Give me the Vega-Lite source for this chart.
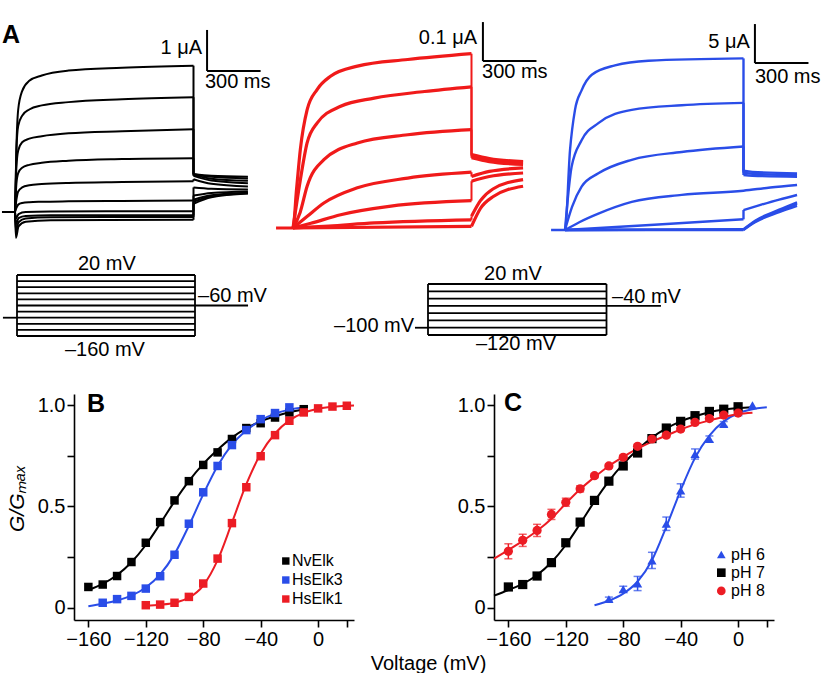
{
"$schema": "https://vega.github.io/schema/vega-lite/v6.json",
"padding": {"left": -3, "top": 20, "right": 0, "bottom": 0},
"background": "white",
"bounds": "full",
"spacing": 7,
"resolve": {"scale": {"color": "independent", "shape": "independent"}, "legend": {"color": "independent", "shape": "independent"}},
"config": {
  "view": {"stroke": null},
  "font": "Liberation Sans",
  "axis": {"domainColor": "#000", "domainWidth": 1.6, "tickColor": "#000", "tickWidth": 1.6, "tickSize": 7, "labelColor": "#000", "labelFontSize": 20, "labelFont": "Liberation Sans", "titleColor": "#000", "titleFont": "Liberation Sans", "titleFontSize": 20, "titleFontWeight": "normal", "grid": false, "labelFlush": false, "labelOverlap": false, "labelPadding": 2},
  "text": {"font": "Liberation Sans", "fontSize": 20, "color": "#000", "baseline": "middle"}
},
"datasets": {
  "kTr": [
    {"k":"1a","t":-73,"i":0},{"k":"1a","t":0,"i":0},{"k":"1a","t":8,"i":1.6},{"k":"1a","t":18,"i":2.5},{"k":"1a","t":40,"i":2.95},{"k":"1a","t":80,"i":3.2},{"k":"1a","t":150,"i":3.33},{"k":"1a","t":300,"i":3.45},{"k":"1a","t":600,"i":3.52},{"k":"1a","t":1000,"i":3.57},
    {"k":"1b","t":1000,"i":0.93},{"k":"1b","t":1100,"i":0.886},{"k":"1b","t":1305,"i":0.86},
    {"k":"2a","t":0,"i":0},{"k":"2a","t":8,"i":1.5},{"k":"2a","t":18,"i":2.1},{"k":"2a","t":40,"i":2.35},{"k":"2a","t":80,"i":2.5},{"k":"2a","t":150,"i":2.6},{"k":"2a","t":300,"i":2.68},{"k":"2a","t":600,"i":2.75},{"k":"2a","t":1000,"i":2.8},
    {"k":"2b","t":1000,"i":0.92},{"k":"2b","t":1100,"i":0.857},{"k":"2b","t":1305,"i":0.82},
    {"k":"3a","t":0,"i":0},{"k":"3a","t":8,"i":1.1},{"k":"3a","t":18,"i":1.5},{"k":"3a","t":40,"i":1.7},{"k":"3a","t":80,"i":1.79},{"k":"3a","t":150,"i":1.85},{"k":"3a","t":300,"i":1.92},{"k":"3a","t":600,"i":1.97},{"k":"3a","t":1000,"i":2.02},
    {"k":"3b","t":1000,"i":0.9},{"k":"3b","t":1100,"i":0.812},{"k":"3b","t":1305,"i":0.76},
    {"k":"4a","t":0,"i":0},{"k":"4a","t":8,"i":0.7},{"k":"4a","t":18,"i":0.95},{"k":"4a","t":40,"i":1.08},{"k":"4a","t":80,"i":1.15},{"k":"4a","t":150,"i":1.2},{"k":"4a","t":300,"i":1.25},{"k":"4a","t":600,"i":1.29},{"k":"4a","t":1000,"i":1.31},
    {"k":"4b","t":1000,"i":0.88},{"k":"4b","t":1100,"i":0.767},{"k":"4b","t":1305,"i":0.7},
    {"k":"5a","t":0,"i":0},{"k":"5a","t":8,"i":0.3},{"k":"5a","t":18,"i":0.5},{"k":"5a","t":40,"i":0.6},{"k":"5a","t":80,"i":0.65},{"k":"5a","t":150,"i":0.68},{"k":"5a","t":300,"i":0.71},{"k":"5a","t":600,"i":0.73},{"k":"5a","t":1000,"i":0.75},
    {"k":"5b","t":1000,"i":0.8},{"k":"5b","t":1100,"i":0.687},{"k":"5b","t":1305,"i":0.62},
    {"k":"6a","t":0,"i":0},{"k":"6a","t":8,"i":0.1},{"k":"6a","t":18,"i":0.18},{"k":"6a","t":40,"i":0.22},{"k":"6a","t":80,"i":0.24},{"k":"6a","t":150,"i":0.25},{"k":"6a","t":300,"i":0.26},{"k":"6a","t":600,"i":0.27},{"k":"6a","t":1000,"i":0.28},
    {"k":"6b","t":1000,"i":0.6},{"k":"6b","t":1100,"i":0.568},{"k":"6b","t":1305,"i":0.55},
    {"k":"7a","t":0,"i":0},{"k":"7a","t":6,"i":-0.15},{"k":"7a","t":20,"i":-0.05},{"k":"7a","t":60,"i":0},{"k":"7a","t":200,"i":0.01},{"k":"7a","t":1000,"i":0.02},
    {"k":"7b","t":1000,"i":0.4},{"k":"7b","t":1100,"i":0.463},{"k":"7b","t":1305,"i":0.5},
    {"k":"8a","t":0,"i":0},{"k":"8a","t":5,"i":-0.3},{"k":"8a","t":20,"i":-0.15},{"k":"8a","t":60,"i":-0.1},{"k":"8a","t":200,"i":-0.08},{"k":"8a","t":1000,"i":-0.08},
    {"k":"8b","t":1000,"i":0.3},{"k":"8b","t":1100,"i":0.407},{"k":"8b","t":1305,"i":0.47},
    {"k":"9a","t":0,"i":0},{"k":"9a","t":5,"i":-0.45},{"k":"9a","t":20,"i":-0.25},{"k":"9a","t":60,"i":-0.16},{"k":"9a","t":200,"i":-0.13},{"k":"9a","t":1000,"i":-0.12},
    {"k":"9b","t":1000,"i":0.25},{"k":"9b","t":1100,"i":0.386},{"k":"9b","t":1305,"i":0.46},
    {"k":"10a","t":0,"i":0},{"k":"10a","t":5,"i":-0.63},{"k":"10a","t":20,"i":-0.35},{"k":"10a","t":60,"i":-0.24},{"k":"10a","t":200,"i":-0.2},{"k":"10a","t":1000,"i":-0.19},
    {"k":"10b","t":1000,"i":0.2},{"k":"10b","t":1100,"i":0.358},{"k":"10b","t":1305,"i":0.45}
  ],
  "kJump": [
    {"t":1000,"i":3.57,"i2":0.93},{"t":1000,"i":2.8,"i2":0.92},{"t":1000,"i":2.02,"i2":0.9},{"t":1000,"i":1.31,"i2":0.88},{"t":1000,"i":0.75,"i2":0.8},{"t":1000,"i":0.28,"i2":0.6},{"t":1000,"i":0.02,"i2":0.4},{"t":1000,"i":-0.08,"i2":0.3},{"t":1000,"i":-0.12,"i2":0.25},{"t":1000,"i":-0.19,"i2":0.2}
  ],
  "rTr": [
    {"k":"1a","t":-95,"i":0},{"k":"1a","t":0,"i":0},{"k":"1a","t":20,"i":0.1},{"k":"1a","t":41,"i":0.201},{"k":"1a","t":79,"i":0.303},{"k":"1a","t":135,"i":0.355},{"k":"1a","t":210,"i":0.389},{"k":"1a","t":361,"i":0.415},{"k":"1a","t":643,"i":0.432},{"k":"1a","t":1000,"i":0.447},
    {"k":"1b","t":1000,"i":0.188},{"k":"1b","t":1100,"i":0.178},{"k":"1b","t":1289,"i":0.17},
    {"k":"2a","t":0,"i":0},{"k":"2a","t":40,"i":0.12},{"k":"2a","t":79,"i":0.218},{"k":"2a","t":135,"i":0.269},{"k":"2a","t":267,"i":0.312},{"k":"2a","t":455,"i":0.333},{"k":"2a","t":737,"i":0.35},{"k":"2a","t":1000,"i":0.362},
    {"k":"2b","t":1000,"i":0.185},{"k":"2b","t":1100,"i":0.175},{"k":"2b","t":1289,"i":0.168},
    {"k":"3a","t":0,"i":0},{"k":"3a","t":40,"i":0.04},{"k":"3a","t":79,"i":0.107},{"k":"3a","t":173,"i":0.175},{"k":"3a","t":361,"i":0.218},{"k":"3a","t":643,"i":0.239},{"k":"3a","t":1000,"i":0.252},
    {"k":"3b","t":1000,"i":0.18},{"k":"3b","t":1100,"i":0.17},{"k":"3b","t":1289,"i":0.163},
    {"k":"4a","t":0,"i":0},{"k":"4a","t":80,"i":0.03},{"k":"4a","t":173,"i":0.064},{"k":"4a","t":361,"i":0.103},{"k":"4a","t":643,"i":0.128},{"k":"4a","t":1000,"i":0.143},
    {"k":"4b","t":1000,"i":0.132},{"k":"4b","t":1100,"i":0.145},{"k":"4b","t":1289,"i":0.154},
    {"k":"5a","t":0,"i":0},{"k":"5a","t":100,"i":0.012},{"k":"5a","t":267,"i":0.034},{"k":"5a","t":549,"i":0.056},{"k":"5a","t":1000,"i":0.07},
    {"k":"5b","t":1000,"i":0.12},{"k":"5b","t":1100,"i":0.132},{"k":"5b","t":1289,"i":0.141},
    {"k":"6a","t":0,"i":0},{"k":"6a","t":200,"i":0.005},{"k":"6a","t":455,"i":0.013},{"k":"6a","t":1000,"i":0.021},
    {"k":"6b","t":1000,"i":0.03},{"k":"6b","t":1050,"i":0.07},{"k":"6b","t":1120,"i":0.1},{"k":"6b","t":1289,"i":0.124},
    {"k":"7a","t":0,"i":0},{"k":"7a","t":1000,"i":0.004},
    {"k":"7b","t":1000,"i":0.004},{"k":"7b","t":1050,"i":0.05},{"k":"7b","t":1120,"i":0.08},{"k":"7b","t":1289,"i":0.107}
  ],
  "rJump": [
    {"t":1000,"i":0.447,"i2":0.188},{"t":1000,"i":0.362,"i2":0.185},{"t":1000,"i":0.252,"i2":0.18},{"t":1000,"i":0.143,"i2":0.132},{"t":1000,"i":0.07,"i2":0.12},{"t":1000,"i":0.021,"i2":0.03}
  ],
  "bTr": [
    {"k":"1a","t":-78,"i":0},{"k":"1a","t":0,"i":0},{"k":"1a","t":28,"i":10.2},{"k":"1a","t":56,"i":15.4},{"k":"1a","t":93,"i":17.9},{"k":"1a","t":150,"i":19.9},{"k":"1a","t":280,"i":21.1},{"k":"1a","t":467,"i":21.7},{"k":"1a","t":1000,"i":22.0},
    {"k":"1b","t":1000,"i":7.6},{"k":"1b","t":1050,"i":7.45},{"k":"1b","t":1300,"i":7.26},
    {"k":"2a","t":0,"i":0},{"k":"2a","t":37,"i":8.1},{"k":"2a","t":93,"i":11.5},{"k":"2a","t":187,"i":13.7},{"k":"2a","t":374,"i":15.4},{"k":"2a","t":654,"i":16.0},{"k":"2a","t":1000,"i":16.3},
    {"k":"2b","t":1000,"i":7.35},{"k":"2b","t":1050,"i":7.2},{"k":"2b","t":1300,"i":7.05},
    {"k":"3a","t":0,"i":0},{"k":"3a","t":40,"i":3.0},{"k":"3a","t":93,"i":5.55},{"k":"3a","t":187,"i":7.26},{"k":"3a","t":374,"i":9.0},{"k":"3a","t":654,"i":10.0},{"k":"3a","t":1000,"i":10.7},
    {"k":"3b","t":1000,"i":7.05},{"k":"3b","t":1050,"i":6.95},{"k":"3b","t":1300,"i":6.83},
    {"k":"4a","t":0,"i":0},{"k":"4a","t":80,"i":1.0},{"k":"4a","t":187,"i":2.1},{"k":"4a","t":374,"i":3.6},{"k":"4a","t":654,"i":4.5},{"k":"4a","t":1000,"i":5.04},{"k":"4a","t":1150,"i":5.45},{"k":"4a","t":1300,"i":5.77},
    {"k":"5a","t":0,"i":0},{"k":"5a","t":500,"i":0.68},{"k":"5a","t":1000,"i":1.37},
    {"k":"5b","t":1000,"i":2.56},{"k":"5b","t":1100,"i":3.25},{"k":"5b","t":1200,"i":3.9},{"k":"5b","t":1300,"i":4.49},
    {"k":"6a","t":0,"i":0},{"k":"6a","t":1000,"i":0.09},
    {"k":"6b","t":1000,"i":0.1},{"k":"6b","t":1065,"i":1.2},{"k":"6b","t":1200,"i":2.6},{"k":"6b","t":1300,"i":3.55},
    {"k":"7a","t":0,"i":0},{"k":"7a","t":1000,"i":0.05},
    {"k":"7b","t":1000,"i":0.05},{"k":"7b","t":1065,"i":1.1},{"k":"7b","t":1200,"i":2.45},{"k":"7b","t":1300,"i":3.35},
    {"k":"8a","t":0,"i":0},{"k":"8a","t":1000,"i":0},
    {"k":"8b","t":1000,"i":0},{"k":"8b","t":1065,"i":1.0},{"k":"8b","t":1200,"i":2.3},{"k":"8b","t":1300,"i":3.1}
  ],
  "bJump": [
    {"t":1000,"i":22.0,"i2":7.6},{"t":1000,"i":16.3,"i2":7.35},{"t":1000,"i":10.7,"i2":7.05},{"t":1000,"i":1.37,"i2":2.56}
  ],
  "bpts": [
    {"g":"NvElk","v":-160,"y":0.103},{"g":"NvElk","v":-150,"y":0.115},{"g":"NvElk","v":-140,"y":0.157},{"g":"NvElk","v":-130,"y":0.226},{"g":"NvElk","v":-120,"y":0.321},{"g":"NvElk","v":-110,"y":0.423},{"g":"NvElk","v":-100,"y":0.53},{"g":"NvElk","v":-90,"y":0.625},{"g":"NvElk","v":-80,"y":0.705},{"g":"NvElk","v":-70,"y":0.767},{"g":"NvElk","v":-60,"y":0.833},{"g":"NvElk","v":-50,"y":0.887},{"g":"NvElk","v":-40,"y":0.911},{"g":"NvElk","v":-30,"y":0.939},{"g":"NvElk","v":-20,"y":0.964},{"g":"NvElk","v":-10,"y":0.98},
    {"g":"HsElk3","v":-150,"y":0.025},{"g":"HsElk3","v":-140,"y":0.043},{"g":"HsElk3","v":-130,"y":0.059},{"g":"HsElk3","v":-120,"y":0.095},{"g":"HsElk3","v":-110,"y":0.156},{"g":"HsElk3","v":-100,"y":0.262},{"g":"HsElk3","v":-90,"y":0.415},{"g":"HsElk3","v":-80,"y":0.57},{"g":"HsElk3","v":-70,"y":0.7},{"g":"HsElk3","v":-60,"y":0.803},{"g":"HsElk3","v":-50,"y":0.877},{"g":"HsElk3","v":-40,"y":0.931},{"g":"HsElk3","v":-30,"y":0.961},{"g":"HsElk3","v":-20,"y":0.989},
    {"g":"HsElk1","v":-120,"y":0.013},{"g":"HsElk1","v":-110,"y":0.016},{"g":"HsElk1","v":-100,"y":0.025},{"g":"HsElk1","v":-90,"y":0.054},{"g":"HsElk1","v":-80,"y":0.12},{"g":"HsElk1","v":-70,"y":0.243},{"g":"HsElk1","v":-60,"y":0.418},{"g":"HsElk1","v":-50,"y":0.595},{"g":"HsElk1","v":-40,"y":0.748},{"g":"HsElk1","v":-30,"y":0.852},{"g":"HsElk1","v":-20,"y":0.923},{"g":"HsElk1","v":-10,"y":0.964},{"g":"HsElk1","v":0,"y":0.984},{"g":"HsElk1","v":10,"y":0.993},{"g":"HsElk1","v":20,"y":0.997}
  ],
  "bfit": [
    {"g":"NvElk","v":-160,"y":0.088},{"g":"NvElk","v":-150,"y":0.118},{"g":"NvElk","v":-140,"y":0.162},{"g":"NvElk","v":-130,"y":0.225},{"g":"NvElk","v":-120,"y":0.31},{"g":"NvElk","v":-110,"y":0.415},{"g":"NvElk","v":-100,"y":0.525},{"g":"NvElk","v":-90,"y":0.625},{"g":"NvElk","v":-80,"y":0.71},{"g":"NvElk","v":-70,"y":0.78},{"g":"NvElk","v":-60,"y":0.84},{"g":"NvElk","v":-50,"y":0.885},{"g":"NvElk","v":-40,"y":0.92},{"g":"NvElk","v":-30,"y":0.945},{"g":"NvElk","v":-20,"y":0.965},{"g":"NvElk","v":-10,"y":0.978},
    {"g":"HsElk3","v":-160,"y":0.008},{"g":"HsElk3","v":-150,"y":0.02},{"g":"HsElk3","v":-140,"y":0.036},{"g":"HsElk3","v":-130,"y":0.06},{"g":"HsElk3","v":-120,"y":0.1},{"g":"HsElk3","v":-110,"y":0.165},{"g":"HsElk3","v":-100,"y":0.265},{"g":"HsElk3","v":-90,"y":0.405},{"g":"HsElk3","v":-80,"y":0.56},{"g":"HsElk3","v":-70,"y":0.7},{"g":"HsElk3","v":-60,"y":0.805},{"g":"HsElk3","v":-50,"y":0.875},{"g":"HsElk3","v":-40,"y":0.925},{"g":"HsElk3","v":-30,"y":0.958},{"g":"HsElk3","v":-20,"y":0.978},{"g":"HsElk3","v":-10,"y":0.99},
    {"g":"HsElk1","v":-120,"y":0.01},{"g":"HsElk1","v":-110,"y":0.015},{"g":"HsElk1","v":-100,"y":0.025},{"g":"HsElk1","v":-90,"y":0.05},{"g":"HsElk1","v":-80,"y":0.11},{"g":"HsElk1","v":-70,"y":0.235},{"g":"HsElk1","v":-60,"y":0.42},{"g":"HsElk1","v":-50,"y":0.61},{"g":"HsElk1","v":-40,"y":0.76},{"g":"HsElk1","v":-30,"y":0.86},{"g":"HsElk1","v":-20,"y":0.925},{"g":"HsElk1","v":-10,"y":0.962},{"g":"HsElk1","v":0,"y":0.982},{"g":"HsElk1","v":10,"y":0.992},{"g":"HsElk1","v":20,"y":0.997},{"g":"HsElk1","v":25,"y":0.998}
  ],
  "cpts": [
    {"ph":"pH 6","v":-90,"y":0.043},{"ph":"pH 6","v":-80,"y":0.092},{"ph":"pH 6","v":-70,"y":0.12},{"ph":"pH 6","v":-60,"y":0.234},{"ph":"pH 6","v":-50,"y":0.415},{"ph":"pH 6","v":-40,"y":0.579},{"ph":"pH 6","v":-30,"y":0.759},{"ph":"pH 6","v":-20,"y":0.833},{"ph":"pH 6","v":-10,"y":0.907},{"ph":"pH 6","v":0,"y":0.965},{"ph":"pH 6","v":10,"y":1.0},
    {"ph":"pH 7","v":-160,"y":0.103},{"ph":"pH 7","v":-150,"y":0.115},{"ph":"pH 7","v":-140,"y":0.157},{"ph":"pH 7","v":-130,"y":0.223},{"ph":"pH 7","v":-120,"y":0.321},{"ph":"pH 7","v":-110,"y":0.423},{"ph":"pH 7","v":-100,"y":0.53},{"ph":"pH 7","v":-90,"y":0.625},{"ph":"pH 7","v":-80,"y":0.7},{"ph":"pH 7","v":-70,"y":0.764},{"ph":"pH 7","v":-60,"y":0.835},{"ph":"pH 7","v":-50,"y":0.887},{"ph":"pH 7","v":-40,"y":0.92},{"ph":"pH 7","v":-30,"y":0.948},{"ph":"pH 7","v":-20,"y":0.969},{"ph":"pH 7","v":-10,"y":0.98},{"ph":"pH 7","v":0,"y":0.992},
    {"ph":"pH 8","v":-160,"y":0.279},{"ph":"pH 8","v":-150,"y":0.333},{"ph":"pH 8","v":-140,"y":0.382},{"ph":"pH 8","v":-130,"y":0.461},{"ph":"pH 8","v":-120,"y":0.521},{"ph":"pH 8","v":-110,"y":0.587},{"ph":"pH 8","v":-100,"y":0.652},{"ph":"pH 8","v":-90,"y":0.7},{"ph":"pH 8","v":-80,"y":0.743},{"ph":"pH 8","v":-70,"y":0.797},{"ph":"pH 8","v":-60,"y":0.833},{"ph":"pH 8","v":-50,"y":0.852},{"ph":"pH 8","v":-40,"y":0.882},{"ph":"pH 8","v":-30,"y":0.915},{"ph":"pH 8","v":-20,"y":0.934},{"ph":"pH 8","v":-10,"y":0.951},{"ph":"pH 8","v":0,"y":0.961}
  ],
  "cerr": [
    {"ph":"pH 6","v":-90,"y":0.033,"y2":0.053},{"ph":"pH 6","v":-80,"y":0.077,"y2":0.107},{"ph":"pH 6","v":-70,"y":0.085,"y2":0.155},{"ph":"pH 6","v":-60,"y":0.194,"y2":0.274},{"ph":"pH 6","v":-50,"y":0.382,"y2":0.448},{"ph":"pH 6","v":-40,"y":0.546,"y2":0.612},{"ph":"pH 6","v":-30,"y":0.734,"y2":0.784},{"ph":"pH 6","v":-20,"y":0.818,"y2":0.848},{"ph":"pH 6","v":-10,"y":0.895,"y2":0.919},
    {"ph":"pH 8","v":-160,"y":0.242,"y2":0.316},{"ph":"pH 8","v":-150,"y":0.303,"y2":0.363},{"ph":"pH 8","v":-140,"y":0.352,"y2":0.412},{"ph":"pH 8","v":-130,"y":0.436,"y2":0.486},{"ph":"pH 8","v":-120,"y":0.501,"y2":0.541},{"ph":"pH 8","v":-110,"y":0.572,"y2":0.602},{"ph":"pH 8","v":-100,"y":0.642,"y2":0.662},{"ph":"pH 8","v":-90,"y":0.69,"y2":0.71},{"ph":"pH 8","v":-80,"y":0.733,"y2":0.753},{"ph":"pH 8","v":-70,"y":0.787,"y2":0.807},{"ph":"pH 8","v":-60,"y":0.823,"y2":0.843},{"ph":"pH 8","v":-50,"y":0.842,"y2":0.862},{"ph":"pH 8","v":-40,"y":0.872,"y2":0.892},{"ph":"pH 8","v":-30,"y":0.905,"y2":0.925},{"ph":"pH 8","v":-20,"y":0.924,"y2":0.944},{"ph":"pH 8","v":-10,"y":0.941,"y2":0.961},{"ph":"pH 8","v":0,"y":0.951,"y2":0.971}
  ],
  "cfit": [
    {"ph":"pH 6","v":-100,"y":0.013},{"ph":"pH 6","v":-90,"y":0.035},{"ph":"pH 6","v":-80,"y":0.07},{"ph":"pH 6","v":-70,"y":0.13},{"ph":"pH 6","v":-60,"y":0.235},{"ph":"pH 6","v":-50,"y":0.4},{"ph":"pH 6","v":-40,"y":0.58},{"ph":"pH 6","v":-30,"y":0.74},{"ph":"pH 6","v":-20,"y":0.85},{"ph":"pH 6","v":-10,"y":0.92},{"ph":"pH 6","v":0,"y":0.96},{"ph":"pH 6","v":10,"y":0.98},{"ph":"pH 6","v":20,"y":0.99},
    {"ph":"pH 7","v":-170,"y":0.06},{"ph":"pH 7","v":-160,"y":0.088},{"ph":"pH 7","v":-150,"y":0.118},{"ph":"pH 7","v":-140,"y":0.162},{"ph":"pH 7","v":-130,"y":0.225},{"ph":"pH 7","v":-120,"y":0.31},{"ph":"pH 7","v":-110,"y":0.415},{"ph":"pH 7","v":-100,"y":0.525},{"ph":"pH 7","v":-90,"y":0.625},{"ph":"pH 7","v":-80,"y":0.71},{"ph":"pH 7","v":-70,"y":0.78},{"ph":"pH 7","v":-60,"y":0.84},{"ph":"pH 7","v":-50,"y":0.885},{"ph":"pH 7","v":-40,"y":0.92},{"ph":"pH 7","v":-30,"y":0.945},{"ph":"pH 7","v":-20,"y":0.965},{"ph":"pH 7","v":-10,"y":0.978},{"ph":"pH 7","v":0,"y":0.986},{"ph":"pH 7","v":10,"y":0.99},
    {"ph":"pH 8","v":-170,"y":0.243},{"ph":"pH 8","v":-160,"y":0.285},{"ph":"pH 8","v":-150,"y":0.33},{"ph":"pH 8","v":-140,"y":0.38},{"ph":"pH 8","v":-130,"y":0.44},{"ph":"pH 8","v":-120,"y":0.515},{"ph":"pH 8","v":-110,"y":0.585},{"ph":"pH 8","v":-100,"y":0.645},{"ph":"pH 8","v":-90,"y":0.7},{"ph":"pH 8","v":-80,"y":0.745},{"ph":"pH 8","v":-70,"y":0.785},{"ph":"pH 8","v":-60,"y":0.82},{"ph":"pH 8","v":-50,"y":0.85},{"ph":"pH 8","v":-40,"y":0.88},{"ph":"pH 8","v":-30,"y":0.905},{"ph":"pH 8","v":-20,"y":0.925},{"ph":"pH 8","v":-10,"y":0.942},{"ph":"pH 8","v":0,"y":0.955},{"ph":"pH 8","v":10,"y":0.962}
  ]
},
"vconcat": [
  {
    "hconcat": [
      {
        "width": 270, "height": 220,
        "encoding": {
          "x": {"field": "t", "type": "quantitative", "scale": {"domain": [-84, 1428.6], "nice": false, "zero": false}, "axis": null},
          "y": {"field": "i", "type": "quantitative", "scale": {"domain": [-0.683, 4.683], "nice": false, "zero": false}, "axis": null}
        },
        "layer": [
          {"data": {"name": "kTr"}, "mark": {"type": "line", "interpolate": "monotone", "strokeWidth": 2, "color": "#000"}, "encoding": {"detail": {"field": "k", "type": "nominal"}}},
          {"data": {"name": "kJump"}, "mark": {"type": "rule", "strokeWidth": 2, "color": "#000"}, "encoding": {"y2": {"field": "i2"}}},
          {"data": {"values": [{"t": 1076, "t2": 1076, "i": 3.44, "i2": 4.44}, {"t": 1076, "t2": 1376, "i": 3.44, "i2": 3.44}]}, "mark": {"type": "rule", "strokeWidth": 2, "color": "#000"}, "encoding": {"x2": {"field": "t2"}, "y2": {"field": "i2"}}},
          {"data": {"values": [{"txt": "1 μA", "t": 1048, "i": 4.0}]}, "mark": {"type": "text", "align": "right"}, "encoding": {"text": {"field": "txt"}}},
          {"data": {"values": [{"txt": "300 ms", "t": 1064, "i": 3.16}]}, "mark": {"type": "text", "align": "left"}, "encoding": {"text": {"field": "txt"}}},
          {"data": {"values": [{"txt": "A", "t": -72.8, "i": 4.122}]}, "mark": {"type": "text", "align": "left", "baseline": "alphabetic", "fontSize": 25, "fontWeight": "bold"}, "encoding": {"text": {"field": "txt"}}}
        ]
      },
      {
        "width": 275, "height": 220,
        "encoding": {
          "x": {"field": "t", "type": "quantitative", "scale": {"domain": [-128.85, 1411.8], "nice": false, "zero": false}, "axis": null},
          "y": {"field": "i", "type": "quantitative", "scale": {"domain": [-0.0308, 0.5333], "nice": false, "zero": false}, "axis": null}
        },
        "layer": [
          {"data": {"name": "rTr"}, "mark": {"type": "line", "interpolate": "monotone", "strokeWidth": 3.2, "color": "#f01a1a"}, "encoding": {"detail": {"field": "k", "type": "nominal"}}},
          {"data": {"name": "rJump"}, "mark": {"type": "rule", "strokeWidth": 2, "color": "#f01a1a"}, "encoding": {"y2": {"field": "i2"}}},
          {"data": {"values": [{"t": 1064, "t2": 1064, "i": 0.428, "i2": 0.528}, {"t": 1064, "t2": 1364, "i": 0.428, "i2": 0.428}]}, "mark": {"type": "rule", "strokeWidth": 2, "color": "#000"}, "encoding": {"x2": {"field": "t2"}, "y2": {"field": "i2"}}},
          {"data": {"values": [{"txt": "0.1 μA", "t": 1031, "i": 0.487}]}, "mark": {"type": "text", "align": "right"}, "encoding": {"text": {"field": "txt"}}},
          {"data": {"values": [{"txt": "300 ms", "t": 1059, "i": 0.401}]}, "mark": {"type": "text", "align": "left"}, "encoding": {"text": {"field": "txt"}}}
        ]
      },
      {
        "width": 270, "height": 220,
        "encoding": {
          "x": {"field": "t", "type": "quantitative", "scale": {"domain": [-112.04, 1400.6], "nice": false, "zero": false}, "axis": null},
          "y": {"field": "i", "type": "quantitative", "scale": {"domain": [-1.282, 26.92], "nice": false, "zero": false}, "axis": null}
        },
        "layer": [
          {"data": {"name": "bTr"}, "mark": {"type": "line", "interpolate": "monotone", "strokeWidth": 2.4, "color": "#2a4de8"}, "encoding": {"detail": {"field": "k", "type": "nominal"}}},
          {"data": {"name": "bJump"}, "mark": {"type": "rule", "strokeWidth": 2.4, "color": "#2a4de8"}, "encoding": {"y2": {"field": "i2"}}},
          {"data": {"values": [{"t": 1064, "t2": 1064, "i": 21.4, "i2": 26.4}, {"t": 1064, "t2": 1364, "i": 21.4, "i2": 21.4}]}, "mark": {"type": "rule", "strokeWidth": 2, "color": "#000"}, "encoding": {"x2": {"field": "t2"}, "y2": {"field": "i2"}}},
          {"data": {"values": [{"txt": "5 μA", "t": 1036, "i": 24.1}]}, "mark": {"type": "text", "align": "right"}, "encoding": {"text": {"field": "txt"}}},
          {"data": {"values": [{"txt": "300 ms", "t": 1064, "i": 19.6}]}, "mark": {"type": "text", "align": "left"}, "encoding": {"text": {"field": "txt"}}}
        ]
      }
    ],
    "spacing": 0, "bounds": "flush"
  },
  {
    "hconcat": [
      {
        "width": 330, "height": 135,
        "encoding": {
          "x": {"field": "t", "type": "quantitative", "scale": {"domain": [-95.5, 1758.4], "nice": false, "zero": false}, "axis": null},
          "y": {"field": "v", "type": "quantitative", "scale": {"domain": [-301.6, 96.7], "nice": false, "zero": false}, "axis": null}
        },
        "layer": [
          {"data": {"values": [
            {"t":0,"t2":1000,"v":20,"v2":20},{"t":0,"t2":1000,"v":2,"v2":2},{"t":0,"t2":1000,"v":-16,"v2":-16},{"t":0,"t2":1000,"v":-34,"v2":-34},{"t":0,"t2":1000,"v":-52,"v2":-52},{"t":0,"t2":1000,"v":-70,"v2":-70},{"t":0,"t2":1000,"v":-88,"v2":-88},{"t":0,"t2":1000,"v":-106,"v2":-106},{"t":0,"t2":1000,"v":-124,"v2":-124},{"t":0,"t2":1000,"v":-142,"v2":-142},{"t":0,"t2":1000,"v":-160,"v2":-160},
            {"t":0,"t2":0,"v":-160,"v2":20},{"t":1000,"t2":1000,"v":-160,"v2":20},
            {"t":-79,"t2":0,"v":-106,"v2":-106},{"t":1000,"t2":1298,"v":-70,"v2":-70}
          ]}, "mark": {"type": "rule", "strokeWidth": 1.8, "color": "#000"}, "encoding": {"x2": {"field": "t2"}, "y2": {"field": "v2"}}},
          {"data": {"values": [{"txt": "20 mV", "t": 505, "v": 52.5}, {"txt": "–160 mV", "t": 494, "v": -201}]}, "mark": {"type": "text", "align": "center"}, "encoding": {"text": {"field": "txt"}}},
          {"data": {"values": [{"txt": "–60 mV", "t": 1017, "v": -42}]}, "mark": {"type": "text", "align": "left"}, "encoding": {"text": {"field": "txt"}}}
        ]
      },
      {
        "width": 370, "height": 135,
        "encoding": {
          "x": {"field": "t", "type": "quantitative", "scale": {"domain": [-549, 1523.8], "nice": false, "zero": false}, "axis": null},
          "y": {"field": "v", "type": "quantitative", "scale": {"domain": [-254.5, 116.1], "nice": false, "zero": false}, "axis": null}
        },
        "layer": [
          {"data": {"values": [
            {"t":0,"t2":1000,"v":20,"v2":20},{"t":0,"t2":1000,"v":0,"v2":0},{"t":0,"t2":1000,"v":-20,"v2":-20},{"t":0,"t2":1000,"v":-40,"v2":-40},{"t":0,"t2":1000,"v":-60,"v2":-60},{"t":0,"t2":1000,"v":-80,"v2":-80},{"t":0,"t2":1000,"v":-100,"v2":-100},{"t":0,"t2":1000,"v":-120,"v2":-120},
            {"t":0,"t2":0,"v":-120,"v2":20},{"t":1000,"t2":1000,"v":-120,"v2":20},
            {"t":-73,"t2":0,"v":-100,"v2":-100},{"t":1000,"t2":1305,"v":-40,"v2":-40}
          ]}, "mark": {"type": "rule", "strokeWidth": 1.8, "color": "#000"}, "encoding": {"x2": {"field": "t2"}, "y2": {"field": "v2"}}},
          {"data": {"values": [{"txt": "20 mV", "t": 476, "v": 47.4}, {"txt": "–120 mV", "t": 493, "v": -144.7}]}, "mark": {"type": "text", "align": "center"}, "encoding": {"text": {"field": "txt"}}},
          {"data": {"values": [{"txt": "–40 mV", "t": 1031, "v": -15.7}]}, "mark": {"type": "text", "align": "left"}, "encoding": {"text": {"field": "txt"}}},
          {"data": {"values": [{"txt": "–100 mV", "t": -78, "v": -95.3}]}, "mark": {"type": "text", "align": "right"}, "encoding": {"text": {"field": "txt"}}}
        ]
      }
    ],
    "spacing": 0, "bounds": "flush"
  },
  {
    "hconcat": [
      {"width": 74, "height": 226, "data": {"values": [{"s": ""}]}, "mark": {"type": "text"}, "encoding": {"text": {"field": "s", "type": "nominal"}}},
      {
        "hconcat": [
          {
            "width": 280, "height": 226,
            "encoding": {
              "x": {"field": "v", "type": "quantitative", "scale": {"domain": [-170, 25], "nice": false, "zero": false},
                    "axis": {"values": [-160, -120, -80, -40, 0, 20], "labelExpr": "datum.value == 20 ? '' : datum.label", "title": "Voltage (mV)", "titleX": 354, "titleY": 49, "titleAlign": "center", "titleBaseline": "alphabetic", "titleAnchor": null}},
              "y": {"field": "y", "type": "quantitative", "scale": {"domain": [-0.06, 1.055], "nice": false, "zero": false},
                    "axis": {"values": [0, 0.25, 0.5, 0.75, 1], "labelExpr": "datum.value == 0 ? '0' : (datum.value == 0.5 || datum.value == 1) ? format(datum.value, '.1f') : ''", "title": "G/Gₘₐₓ", "titleFontStyle": "italic", "titleFontSize": 21, "titleX": -68, "titleY": 104, "titleAngle": 270, "titleAlign": "center", "titleBaseline": "top"}}
            },
            "layer": [
              {"data": {"name": "bfit"}, "transform": [{"filter": "datum.g == 'NvElk'"}], "mark": {"type": "line", "interpolate": "monotone", "strokeWidth": 2, "color": "#000000"}},
              {"data": {"name": "bfit"}, "transform": [{"filter": "datum.g == 'HsElk3'"}], "mark": {"type": "line", "interpolate": "monotone", "strokeWidth": 2, "color": "#2a4de8"}},
              {"data": {"name": "bfit"}, "transform": [{"filter": "datum.g == 'HsElk1'"}], "mark": {"type": "line", "interpolate": "monotone", "strokeWidth": 2, "color": "#ec1c24"}},
              {"data": {"name": "bpts"}, "mark": {"type": "point", "shape": "square", "filled": true, "size": 72, "opacity": 1},
               "encoding": {"color": {"field": "g", "type": "nominal", "scale": {"domain": ["NvElk", "HsElk3", "HsElk1"], "range": ["#000000", "#2a4de8", "#ec1c24"]},
                 "legend": {"orient": "none", "legendX": 203.8, "legendY": 159, "title": null, "symbolType": "square", "symbolSize": 55, "labelFontSize": 16, "labelOffset": -1.8, "rowPadding": 3, "padding": 0, "labelColor": "#000", "labelFont": "Liberation Sans", "symbolStrokeWidth": 0, "symbolOpacity": 1}}}},
              {"data": {"values": [{"txt": "B", "v": -160.95, "y": 0.966}]}, "mark": {"type": "text", "align": "left", "baseline": "alphabetic", "fontSize": 25, "fontWeight": "bold"}, "encoding": {"text": {"field": "txt"}}}
            ]
          },
          {
            "width": 280, "height": 226,
            "encoding": {
              "x": {"field": "v", "type": "quantitative", "scale": {"domain": [-170, 25], "nice": false, "zero": false},
                    "axis": {"values": [-160, -120, -80, -40, 0, 20], "labelExpr": "datum.value == 20 ? '' : datum.label", "title": null}},
              "y": {"field": "y", "type": "quantitative", "scale": {"domain": [-0.06, 1.055], "nice": false, "zero": false},
                    "axis": {"values": [0, 0.25, 0.5, 0.75, 1], "labelExpr": "datum.value == 0 ? '0' : (datum.value == 0.5 || datum.value == 1) ? format(datum.value, '.1f') : ''", "title": null}}
            },
            "layer": [
              {"data": {"name": "cfit"}, "transform": [{"filter": "datum.ph == 'pH 6'"}], "mark": {"type": "line", "interpolate": "monotone", "strokeWidth": 2, "color": "#2a4de8"}},
              {"data": {"name": "cfit"}, "transform": [{"filter": "datum.ph == 'pH 7'"}], "mark": {"type": "line", "interpolate": "monotone", "strokeWidth": 2, "color": "#000000"}},
              {"data": {"name": "cfit"}, "transform": [{"filter": "datum.ph == 'pH 8'"}], "mark": {"type": "line", "interpolate": "monotone", "strokeWidth": 2, "color": "#ec1c24"}},
              {"data": {"name": "cerr"}, "transform": [{"filter": "datum.ph == 'pH 6'"}], "mark": {"type": "errorbar", "ticks": {"size": 8}, "color": "#2a4de8", "thickness": 1.5}, "encoding": {"y2": {"field": "y2"}}},
              {"data": {"name": "cerr"}, "transform": [{"filter": "datum.ph == 'pH 8'"}], "mark": {"type": "errorbar", "ticks": {"size": 8}, "color": "#ec1c24", "thickness": 1.5}, "encoding": {"y2": {"field": "y2"}}},
              {"data": {"name": "cpts"}, "mark": {"type": "point", "filled": true, "size": 85, "opacity": 1},
               "encoding": {
                 "color": {"field": "ph", "type": "nominal", "scale": {"domain": ["pH 6", "pH 7", "pH 8"], "range": ["#2a4de8", "#000000", "#ec1c24"]},
                   "legend": {"orient": "none", "legendX": 219.3, "legendY": 152.5, "title": null, "symbolSize": 75, "labelFontSize": 16, "labelOffset": 1.8, "rowPadding": 2.2, "padding": 0, "labelColor": "#000", "labelFont": "Liberation Sans", "symbolStrokeWidth": 0, "symbolOpacity": 1}},
                 "shape": {"field": "ph", "type": "nominal", "scale": {"domain": ["pH 6", "pH 7", "pH 8"], "range": ["triangle-up", "square", "circle"]},
                   "legend": {"orient": "none", "legendX": 219.3, "legendY": 152.5, "title": null, "symbolSize": 75, "labelFontSize": 16, "labelOffset": 1.8, "rowPadding": 2.2, "padding": 0, "labelColor": "#000", "labelFont": "Liberation Sans", "symbolStrokeWidth": 0, "symbolOpacity": 1}}
               }},
              {"data": {"values": [{"txt": "C", "v": -163.0, "y": 0.971}]}, "mark": {"type": "text", "align": "left", "baseline": "alphabetic", "fontSize": 25, "fontWeight": "bold"}, "encoding": {"text": {"field": "txt"}}}
            ]
          }
        ],
        "spacing": 140, "bounds": "flush",
        "resolve": {"scale": {"color": "independent", "shape": "independent"}, "legend": {"color": "independent", "shape": "independent"}}
      }
    ],
    "spacing": 0, "bounds": "flush",
    "resolve": {"scale": {"color": "independent", "shape": "independent"}, "legend": {"color": "independent", "shape": "independent"}}
  }
]
}
